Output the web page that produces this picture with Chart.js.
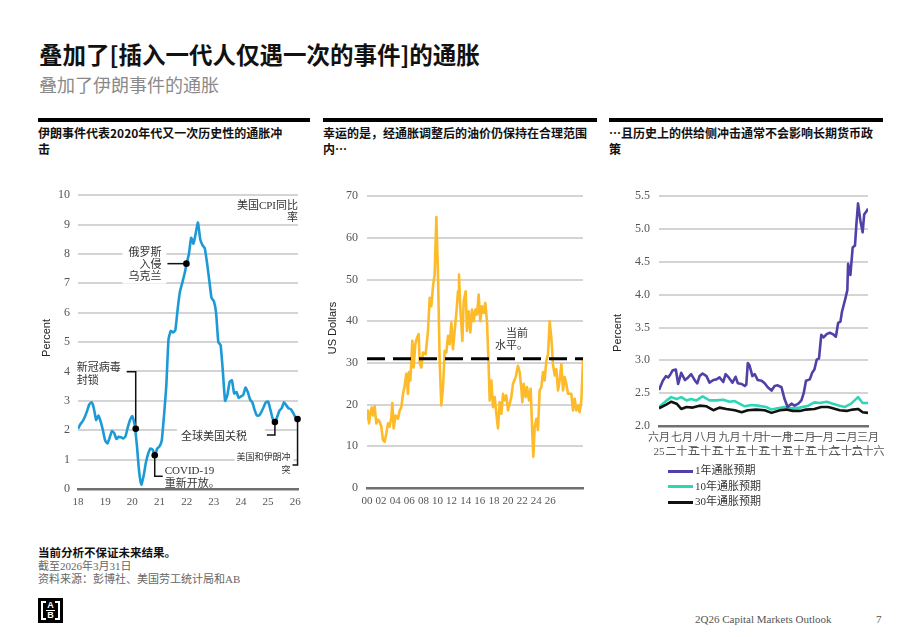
<!DOCTYPE html>
<html lang="zh-CN">
<head>
<meta charset="UTF-8">
<title>叠加了伊朗事件的通胀</title>
<script src="https://cdn.jsdelivr.net/npm/chart.js"></script>
<style>
    body {
        margin: 0;
        width: 920px;
        height: 637px;
        position: relative;
        overflow: hidden;
        background: #fff;
        font-family: "Noto Sans CJK SC", sans-serif;
        color: #111;
    }
    .title { position: absolute; left: 39px; top: 39px; font-size: 23.5px; font-weight: bold; line-height: 30px; }
    .subtitle { position: absolute; left: 39px; top: 72px; font-size: 18px; line-height: 24px; color: #8a8a8a; }
    .panel { position: absolute; top: 118px; border-top: 4px solid #000; }
    .panel h2 { margin: 0; padding-top: 3px; font-size: 12px; font-weight: bold; line-height: 16px; }
    canvas { position: absolute; }
    .legend { position: absolute; left: 668px; top: 463px; font: 11px "Liberation Serif", "Noto Sans CJK SC", serif; color: #333; }
    .legend div { height: 15.5px; line-height: 15.5px; white-space: nowrap; }
    .legend span.swatch { display: inline-block; width: 25px; height: 3px; vertical-align: middle; margin-right: 2px; }
    .notes { position: absolute; left: 38px; top: 546px; font: 11px/13px "Liberation Serif", "Noto Sans CJK SC", serif; color: #666; }
    .notes b { font-family: "Noto Sans CJK SC", sans-serif; font-size: 11.5px; color: #111; }
    .logo { position: absolute; left: 38px; top: 598px; width: 25px; height: 25px; background: #000; }
    .logo .frame { position: absolute; left: 3px; top: 3px; width: 15px; height: 15px; border: 2px solid #fff; }
    .logo .cut { position: absolute; left: 8px; top: 2px; width: 9px; height: 21px; background: #000; }
    .logo .ab { position: absolute; left: 5px; width: 15px; text-align: center; color: #fff; font: bold 9px/9px "Liberation Sans", sans-serif; }
    .logo .mid { position: absolute; left: 8px; top: 12px; width: 9px; height: 1px; background: #fff; }
    .footer { position: absolute; top: 612px; font: 11px/14px "Liberation Serif", serif; color: #555; }
</style>
</head>
<body>
<div class="title">叠加了[插入一代人仅遇一次的事件]的通胀</div>
<div class="subtitle">叠加了伊朗事件的通胀</div>

<div class="panel" style="left:38px;width:272px"><h2>伊朗事件代表2020年代又一次历史性的通胀冲<br>击</h2></div>
<div class="panel" style="left:323px;width:274px"><h2>幸运的是，经通胀调整后的油价仍保持在合理范围<br>内…</h2></div>
<div class="panel" style="left:609px;width:274px"><h2>…且历史上的供给侧冲击通常不会影响长期货币政<br>策</h2></div>

<canvas id="cpiChart" width="280" height="330" style="left:30px;top:180px"></canvas>
<canvas id="oilChart" width="280" height="330" style="left:320px;top:180px"></canvas>
<canvas id="expChart" width="300" height="285" style="left:600px;top:180px"></canvas>
<div class="legend" id="expLegend"></div>

<div class="notes">
    <b>当前分析不保证未来结果。</b><br>
    截至2026年3月31日<br>
    资料来源：彭博社、美国劳工统计局和AB
</div>
<div class="logo">
    <div class="frame"></div><div class="cut"></div>
    <div class="ab" style="top:3px">A</div><div class="mid"></div><div class="ab" style="top:13px">B</div>
</div>
<div class="footer" style="left:695px">2Q26 Capital Markets Outlook</div>
<div class="footer" style="left:876px">7</div>

<script>
// ---- 图1：美国CPI同比（月度，2018年1月起） ----
const cpiYearLabels = ['18', '19', '20', '21', '22', '23', '24', '25', '26'];
const cpi = [
    2.05, 2.2, 2.3, 2.45, 2.65, 2.88, 2.95, 2.75, 2.35, 2.5, 2.3, 2.0,
    1.65, 1.55, 1.75, 1.97, 1.9, 1.7, 1.78, 1.76, 1.72, 1.8, 2.1, 2.35,
    2.48, 2.2, 1.5, 0.6, 0.15, 0.45, 0.9, 1.2, 1.38, 1.34, 1.15, 1.38,
    1.45, 1.65, 2.5, 3.5, 5.1, 5.38, 5.33, 5.4, 6.1, 6.7, 7.0, 7.3,
    7.67, 8.0, 8.55, 8.35, 8.7, 9.07, 8.5, 8.3, 8.2, 7.7, 7.1, 6.5,
    6.4, 6.0, 5.0, 4.9, 4.0, 3.0, 3.2, 3.65, 3.7, 3.25, 3.3, 3.1,
    3.15, 3.2, 3.45, 3.3, 3.05, 2.95, 2.7, 2.5, 2.5, 2.62, 2.78, 2.95,
    2.98, 2.7, 2.4, 2.28, 2.45, 2.67, 2.75, 2.95, 2.85, 2.75, 2.72, 2.6,
    2.45, 2.38
];
const eventMonths = [25.5, 33.9, 47.9, 87, 97];
const eventValues = [2.05, 1.15, 7.67, 2.28, 2.38];
const eventLabels = [['新冠病毒', '封锁'], ['COVID-19', '重新开放。'], ['俄罗斯', '入侵', '乌克兰'], ['全球美国关税'], ['美国和伊朗冲', '突']];

// ---- 图2：经通胀调整后的油价（美元） ----
const oilTickLabels = ['00', '02', '04', '06', '08', '10', '12', '14', '16', '18', '20', '22', '24', '26'];
const oilYears = [2000.00, 2000.12, 2000.24, 2000.41, 2000.57, 2000.73, 2000.93, 2001.13, 2001.34, 2001.54, 2001.74, 2001.94,
    2002.15, 2002.35, 2002.55, 2002.75, 2002.96, 2003.08, 2003.24, 2003.48, 2003.77, 2003.97, 2004.17, 2004.38, 2004.58,
    2004.78, 2004.98, 2005.10, 2005.27, 2005.51, 2005.67, 2005.87, 2006.08, 2006.28, 2006.40, 2006.60, 2006.81, 2007.13,
    2007.41, 2007.62, 2007.82, 2008.02, 2008.22, 2008.43, 2008.63, 2008.83, 2009.03, 2009.24, 2009.44, 2009.64, 2009.84,
    2010.05, 2010.25, 2010.45, 2010.65, 2010.86, 2011.06, 2011.18, 2011.34, 2011.59, 2011.75, 2011.99, 2012.15, 2012.36,
    2012.56, 2012.76, 2012.96, 2013.17, 2013.37, 2013.57, 2013.77, 2013.98, 2014.18, 2014.38, 2014.58, 2014.75, 2014.91,
    2015.11, 2015.31, 2015.52, 2015.72, 2015.92, 2016.12, 2016.33, 2016.53, 2016.73, 2016.93, 2017.14, 2017.34, 2017.54,
    2017.74, 2018.07, 2018.35, 2018.55, 2018.76, 2018.88, 2019.04, 2019.28, 2019.45, 2019.69, 2019.89, 2020.09, 2020.21,
    2020.38, 2020.58, 2020.78, 2020.98, 2021.19, 2021.39, 2021.59, 2021.79, 2022.00, 2022.20, 2022.40, 2022.60, 2022.81,
    2023.01, 2023.21, 2023.41, 2023.62, 2023.82, 2024.02, 2024.22, 2024.43, 2024.63, 2024.83, 2025.03, 2025.24, 2025.44,
    2025.64, 2025.84, 2026.05, 2026.25];
const oilPrices = [16.6, 18.6, 15.5, 17.8, 19.3, 17.4, 19.6, 15.5, 16.4, 15.9, 14.7, 11.5,
    11.1, 13.1, 15.5, 14.7, 17.0, 20.4, 14.3, 17.4, 16.6, 18.6, 19.4, 22.6, 24.6,
    27.4, 22.6, 27.8, 25.8, 35.3, 28.9, 34.5, 36.1, 36.9, 30.1, 28.9, 32.5, 32.1,
    37.7, 45.6, 43.6, 48.4, 51.2, 65.0, 51.2, 30.5, 19.8, 24.2, 32.9, 32.5, 36.5,
    34.5, 39.7, 33.3, 37.7, 42.0, 47.2, 51.2, 43.2, 35.3, 44.8, 47.2, 37.7, 42.4,
    37.3, 42.8, 40.0, 42.8, 41.6, 46.4, 40.0, 43.6, 42.0, 44.4, 40.0, 31.3, 21.0,
    25.8, 19.4, 21.8, 17.8, 14.3, 20.6, 17.8, 22.6, 21.0, 22.2, 18.6, 20.2, 21.8,
    25.0, 26.6, 29.3, 27.8, 23.8, 20.6, 25.0, 21.8, 24.2, 21.0, 23.8, 13.1, 7.5,
    14.7, 16.6, 13.9, 23.4, 24.2, 27.8, 25.8, 30.5, 32.1, 40.0, 36.1, 29.7, 27.0,
    28.5, 23.4, 25.8, 29.7, 23.4, 26.6, 25.0, 22.6, 22.6, 22.6, 18.6, 21.4, 18.6,
    19.8, 18.2, 21.0, 30.9];
const oilCurrentLevel = 31;

// ---- 图3：通胀预期（2025年6月1日起的天数） ----
const expMonthLabels = [['六月', '25'], ['七月', '二十五'], ['八月', '二十五'], ['九月', '二十五'], ['十月', '二十五'],
    ['十一月', '二十五'], ['十二月', '二十五'], ['一月', '二十六'], ['二月', '二十六'], ['三月', '二十六']];
const oneYearDays = [0, 5, 9, 12, 15, 18, 22, 25, 29, 34, 38, 42, 47, 50, 53, 57, 62, 66, 71, 75, 79, 84, 87, 91, 96, 100,
    103, 108, 112, 114, 116, 118, 122, 125, 129, 134, 138, 142, 147, 151, 155, 160, 164, 168, 173, 177, 182, 186, 189,
    192, 197, 200, 203, 206, 209, 212, 215, 219, 223, 227, 231, 234, 237, 239, 243, 246, 247, 250, 253, 256, 258, 260,
    263, 266, 268, 271, 273];
const oneYear = [2.55, 2.69, 2.76, 2.74, 2.79, 2.85, 2.86, 2.64, 2.81, 2.70, 2.74, 2.79, 2.69, 2.65, 2.76, 2.80, 2.76, 2.66,
    2.70, 2.71, 2.74, 2.67, 2.79, 2.74, 2.66, 2.75, 2.65, 2.64, 2.61, 2.63, 2.96, 2.93, 2.76, 2.79, 2.70, 2.69, 2.65,
    2.59, 2.54, 2.61, 2.62, 2.59, 2.41, 2.29, 2.34, 2.31, 2.34, 2.39, 2.50, 2.69, 2.71, 2.81, 2.86, 3.01, 3.03, 3.39,
    3.35, 3.40, 3.42, 3.40, 3.36, 3.57, 3.59, 3.74, 3.92, 4.07, 4.47, 4.30, 4.72, 4.75, 5.10, 5.39, 5.13, 4.95, 5.22,
    5.27, 5.31];
const tenYearDays = [0, 10, 16, 23, 29, 36, 42, 49, 57, 66, 75, 84, 92, 99, 105, 112, 121, 129, 140, 147, 155, 164, 173,
    184, 195, 203, 210, 219, 227, 236, 243, 251, 260, 266, 273];
const tenYear = [2.29, 2.39, 2.44, 2.41, 2.44, 2.39, 2.41, 2.39, 2.45, 2.39, 2.39, 2.40, 2.37, 2.38, 2.34, 2.30, 2.32, 2.31,
    2.29, 2.25, 2.27, 2.29, 2.27, 2.28, 2.31, 2.36, 2.35, 2.37, 2.34, 2.31, 2.29, 2.34, 2.44, 2.35, 2.35];
const thirtyYearDays = [0, 10, 16, 23, 29, 36, 44, 53, 62, 71, 79, 88, 99, 108, 116, 127, 138, 147, 158, 166, 175, 184,
    192, 203, 212, 221, 227, 236, 245, 253, 260, 266, 273];
const thirtyYear = [2.27, 2.33, 2.37, 2.34, 2.26, 2.29, 2.28, 2.31, 2.30, 2.24, 2.28, 2.26, 2.24, 2.21, 2.24, 2.25, 2.24,
    2.20, 2.24, 2.25, 2.23, 2.23, 2.25, 2.26, 2.29, 2.29, 2.27, 2.24, 2.23, 2.25, 2.26, 2.21, 2.20];
const expSeriesNames = ['1年通胀预期', '10年通胀预期', '30年通胀预期'];
const expSeriesColors = ['#5040a8', '#2ed6b6', '#111111'];

// ---- 公共样式 ----
const SERIF = '"Liberation Serif", "Noto Sans CJK SC", serif';
const SANS = '"Liberation Sans", "Noto Sans CJK SC", sans-serif';
Chart.defaults.font.family = SERIF;
Chart.defaults.color = '#555';
const GRID = { color: '#d4d4d4', lineWidth: 2, drawTicks: false };
const AXIS = { display: true, color: '#707070', width: 2.5 };

const pairs = (xs, ys) => xs.map((x, i) => ({ x: x, y: ys[i] }));

// 纵轴标题（旋转文字）
const captionPlugin = {
    id: 'caption',
    afterDraw(chart, args, opts) {
        const ctx = chart.ctx;
        ctx.save();
        ctx.translate(opts.x, opts.y);
        ctx.rotate(-Math.PI / 2);
        ctx.font = '11px ' + SANS;
        ctx.fillStyle = '#222';
        ctx.textAlign = 'center';
        ctx.textBaseline = 'middle';
        ctx.fillText(opts.text, 0, 0);
        ctx.restore();
    }
};

// 注释：引线 + 文字（可带白底遮住网格线）
const notesPlugin = {
    id: 'notes',
    beforeDatasetsDraw(chart, args, opts) {
        const { ctx, chartArea } = chart;
        ctx.save();
        (opts.items || []).forEach(it => {
            let ax, ay;
            if (it.point !== undefined) {
                const el = chart.getDatasetMeta(opts.pointDataset).data[it.point];
                ax = el.x; ay = el.y;
            } else {
                ax = it.fromRight !== undefined ? chartArea.right - it.fromRight : chartArea.left + it.fromLeft;
                ay = it.yValue !== undefined ? chart.scales.y.getPixelForValue(it.yValue) : chartArea.top;
            }
            ctx.font = it.size + 'px ' + SERIF;
            const w = Math.max(...it.text.map(l => ctx.measureText(l).width));
            const x = ax + it.dx, y = ay + it.dy;
            const left = it.align === 'right' ? x - w : x;
            if (it.pad) {
                const [pt, pr, pb, pl] = it.pad;
                ctx.fillStyle = '#fff';
                ctx.fillRect(left - pl, y - it.lh / 2 - pt, w + pl + pr, it.lh * it.text.length + pt + pb);
            }
            if (it.path) {
                ctx.beginPath();
                ctx.moveTo(ax, ay);
                it.path.forEach(p => ctx.lineTo(ax + p[0], ay + p[1]));
                ctx.strokeStyle = '#111';
                ctx.lineWidth = 1.5;
                ctx.stroke();
            }
            ctx.fillStyle = '#333';
            ctx.textAlign = it.align;
            ctx.textBaseline = 'middle';
            it.text.forEach((l, k) => ctx.fillText(l, x, y + k * it.lh));
        });
        ctx.restore();
    }
};

// 每个事件注释的引线与文字位置（像素偏移，相对于事件点）
const noteLayout = [
    { path: [[0, -57], [-9, -57]], dx: -59, dy: -61, align: 'left', size: 11, lh: 13, pad: [1, 6, 1, 2] },
    { path: [[0, 21], [8, 21]], dx: 10, dy: 16, align: 'left', size: 11, lh: 13 },
    { path: [[-19, 0]], dx: -25, dy: -11, align: 'right', size: 11, lh: 12, pad: [1, 5, 1, 6] },
    { path: [[0, 13], [-8, 13]], dx: -28, dy: 15, align: 'right', size: 11, lh: 13, pad: [2, 18, 2, 4] },
    { path: [[0, 46], [-5, 46]], dx: -7, dy: 39, align: 'right', size: 9, lh: 13, pad: [1, 3, 1, 2] }
];

// ---- 图1 ----
new Chart(document.getElementById('cpiChart'), {
    type: 'line',
    data: {
        datasets: [{
            label: 'events',
            data: pairs(eventMonths, eventValues),
            showLine: false,
            pointRadius: 3.3,
            pointBackgroundColor: '#000',
            pointBorderWidth: 0,
            clip: false
        }, {
            label: '美国CPI同比率',
            data: cpi.map((v, i) => ({ x: i, y: v })),
            borderColor: '#1c9ad6',
            borderWidth: 2.6,
            pointRadius: 0,
            tension: 0.15,
            borderJoinStyle: 'round'
        }]
    },
    options: {
        responsive: false,
        animation: false,
        layout: { padding: { top: 14, right: 12, bottom: 0, left: 0 } },
        plugins: {
            legend: { display: false },
            tooltip: { enabled: false },
            caption: { text: 'Percent', x: 17, y: 158 },
            notes: {
                pointDataset: 0,
                items: eventLabels.map((t, i) => Object.assign({ point: i, text: t }, noteLayout[i])).concat([
                    { fromRight: 0, dx: 0, dy: 10.5, align: 'right', size: 11, lh: 12, text: ['美国CPI同比', '率'] }
                ])
            }
        },
        scales: {
            x: {
                type: 'linear', min: 0, max: 97.2,
                grid: { display: false, drawTicks: false },
                border: AXIS,
                ticks: {
                    stepSize: 12, includeBounds: false, autoSkip: false, maxRotation: 0, padding: 7,
                    font: { size: 11 }, callback: v => cpiYearLabels[Math.round(v / 12)]
                },
                afterFit: s => { s.height = 21; }
            },
            y: {
                min: 0, max: 10,
                grid: GRID,
                border: { display: false },
                ticks: { stepSize: 1, padding: 8, font: { size: 12 } },
                afterFit: s => { s.width = 48; }
            }
        }
    },
    plugins: [captionPlugin, notesPlugin]
});

// ---- 图2 ----
const oilTickStep = 1.714; // 原图刻度标签的间隔（年）
new Chart(document.getElementById('oilChart'), {
    type: 'line',
    data: {
        datasets: [{
            label: '当前水平',
            data: [{ x: oilYears[0], y: oilCurrentLevel }, { x: oilYears[oilYears.length - 1], y: oilCurrentLevel }],
            borderColor: '#000',
            borderWidth: 3,
            borderDash: [18, 8],
            pointRadius: 0
        }, {
            label: '油价',
            data: pairs(oilYears, oilPrices),
            borderColor: '#fdbb2a',
            borderWidth: 2.6,
            pointRadius: 0,
            borderJoinStyle: 'round'
        }]
    },
    options: {
        responsive: false,
        animation: false,
        layout: { padding: { top: 14, right: 17, bottom: 0, left: 0 } },
        plugins: {
            legend: { display: false },
            tooltip: { enabled: false },
            caption: { text: 'US Dollars', x: 13, y: 148 },
            notes: {
                items: [{ fromLeft: 161, yValue: oilCurrentLevel, dx: 0, dy: -25, align: 'right', size: 11, lh: 12, text: ['当前', '水平。'] }]
            }
        },
        scales: {
            x: {
                type: 'linear', min: oilYears[0], max: oilYears[oilYears.length - 1],
                grid: { display: false, drawTicks: false },
                border: AXIS,
                afterBuildTicks: axis => {
                    axis.ticks = oilTickLabels.map((l, i) => ({ value: oilYears[0] + i * oilTickStep }));
                },
                ticks: { autoSkip: false, maxRotation: 0, padding: 7, font: { size: 11 }, callback: (v, i) => oilTickLabels[i] },
                afterFit: s => { s.height = 22; }
            },
            y: {
                min: 0, max: 70,
                grid: GRID,
                border: { display: false },
                ticks: { stepSize: 10, padding: 9, font: { size: 12 } },
                afterFit: s => { s.width = 47; }
            }
        }
    },
    plugins: [captionPlugin, notesPlugin]
});

// ---- 图3 ----
const dayMs = 86400000;
const expStart = Date.UTC(2025, 5, 1);
const expTickDays = expMonthLabels.map((l, i) => Math.round((Date.UTC(2025, 5 + i, 1) - expStart) / dayMs));
const expSeries = [pairs(oneYearDays, oneYear), pairs(tenYearDays, tenYear), pairs(thirtyYearDays, thirtyYear)];
const drawOrder = [0, 2, 1]; // 紫线在最上，其次黑线
new Chart(document.getElementById('expChart'), {
    type: 'line',
    data: {
        datasets: expSeries.map((d, i) => ({
            label: expSeriesNames[i],
            data: d,
            borderColor: expSeriesColors[i],
            borderWidth: 2.6,
            pointRadius: 0,
            order: drawOrder[i],
            borderJoinStyle: 'round'
        }))
    },
    options: {
        responsive: false,
        animation: false,
        layout: { padding: { top: 13, right: 32, bottom: 0, left: 0 } },
        plugins: {
            legend: { display: false },
            tooltip: { enabled: false },
            caption: { text: 'Percent', x: 18, y: 153 }
        },
        scales: {
            x: {
                type: 'linear', min: 0, max: expTickDays[expTickDays.length - 1],
                grid: { display: false, drawTicks: false },
                border: AXIS,
                afterBuildTicks: axis => { axis.ticks = expTickDays.map(d => ({ value: d })); },
                ticks: { autoSkip: false, maxRotation: 0, padding: 6, font: { size: 11 }, callback: (v, i) => expMonthLabels[i] },
                afterFit: s => { s.height = 39; }
            },
            y: {
                min: 2, max: 5.5,
                grid: GRID,
                border: { display: false },
                ticks: { stepSize: 0.5, padding: 9, font: { size: 12 }, callback: v => v.toFixed(1) },
                afterFit: s => { s.width = 59; }
            }
        }
    },
    plugins: [captionPlugin]
});

// 图3图例
document.getElementById('expLegend').innerHTML = expSeriesNames.map((n, i) =>
    `<div><span class="swatch" style="background:${expSeriesColors[i]}"></span>${n}</div>`).join('');
</script>
</body>
</html>
